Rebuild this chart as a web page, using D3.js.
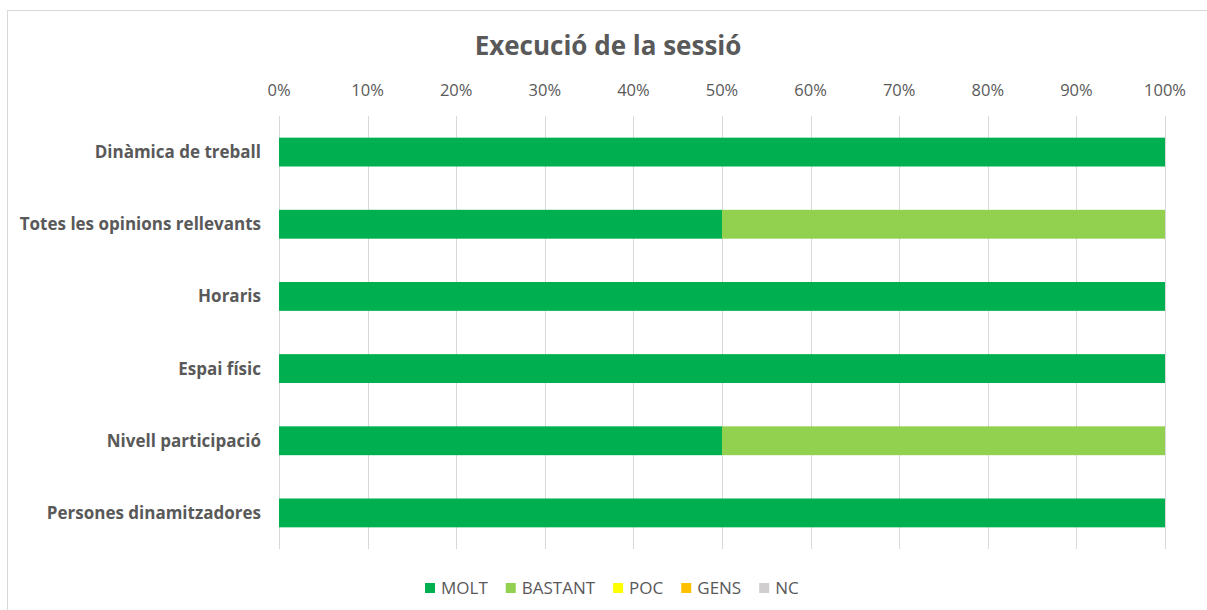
<!DOCTYPE html>
<html lang="ca">
<head>
  <meta charset="UTF-8">
  <title>Execució de la sessió</title>
  <style>
    body { margin: 0; background: #fff; }
    svg text { font-family: "Open Sans", "Noto Sans", sans-serif; fill: #595959; }
    .tick-label { font-size: 16.5px; }
    .cat-label { font-size: 17px; font-weight: bold; }
    .title { font-size: 26px; font-weight: bold; }
    .legend-label { font-size: 17px; }
  </style>
</head>
<body>
  <svg id="chart" width="1207" height="610"></svg>
  <script src="https://d3js.org/d3.v7.min.js"></script>
  <script>
    // Data
    const categories = ["Dinàmica de treball", "Totes les opinions rellevants", "Horaris",
                        "Espai físic", "Nivell participació", "Persones dinamitzadores"];
    const seriesNames = ["MOLT", "BASTANT", "POC", "GENS", "NC"];
    const seriesColors = ["#00B050", "#92D050", "#FFFF00", "#FFC000", "#D0CECE"];
    const molt    = [1, 0.5, 1, 1, 0.5, 1];
    const bastant = [0, 0.5, 0, 0, 0.5, 0];
    const poc     = [0, 0, 0, 0, 0, 0];
    const gens    = [0, 0, 0, 0, 0, 0];
    const nc      = [0, 0, 0, 0, 0, 0];
    const tickValues = [0, 0.1, 0.2, 0.3, 0.4, 0.5, 0.6, 0.7, 0.8, 0.9, 1];

    const svg = d3.select("#chart");

    // chart frame (top and left edges visible)
    svg.append("rect")
      .attr("x", 7.5).attr("y", 10.5)
      .attr("width", 1220).attr("height", 620)
      .attr("fill", "none").attr("stroke", "#d9d9d9").attr("stroke-width", 1);

    const x = d3.scaleLinear().domain([0, 1]).range([279, 1165]);
    const y = d3.scaleBand().domain(categories).range([116, 549]).paddingInner(0.6).paddingOuter(0.3);

    // gridlines
    svg.append("g").selectAll("line")
      .data(tickValues).enter().append("line")
      .attr("x1", d => Math.round(x(d)) + 0.5).attr("x2", d => Math.round(x(d)) + 0.5)
      .attr("y1", 116).attr("y2", 549)
      .attr("stroke", "#d9d9d9").attr("stroke-width", 1);

    // top axis labels
    svg.append("g").selectAll("text")
      .data(tickValues).enter().append("text")
      .attr("class", "tick-label")
      .attr("x", d => x(d)).attr("y", 90)
      .attr("dy", "0.35em")
      .attr("text-anchor", "middle")
      .text(d => d3.format(".0%")(d));

    // stacked bars
    const table = categories.map((c, i) => ({
      cat: c, MOLT: molt[i], BASTANT: bastant[i], POC: poc[i], GENS: gens[i], NC: nc[i]
    }));
    const stacked = d3.stack().keys(seriesNames)(table);
    const color = d3.scaleOrdinal().domain(seriesNames).range(seriesColors);

    svg.append("g").selectAll("g")
      .data(stacked).enter().append("g")
      .attr("fill", d => color(d.key))
      .selectAll("rect")
      .data(d => d.filter(p => p[1] - p[0] > 0)).enter().append("rect")
      .attr("x", d => x(d[0]))
      .attr("y", d => y(d.data.cat))
      .attr("width", d => x(d[1]) - x(d[0]))
      .attr("height", y.bandwidth());

    // category labels
    svg.append("g").selectAll("text")
      .data(categories).enter().append("text")
      .attr("class", "cat-label")
      .attr("x", 261)
      .attr("y", d => y(d) + y.bandwidth() / 2)
      .attr("dy", "0.35em")
      .attr("text-anchor", "end")
      .text(d => d);

    // title
    svg.append("text")
      .attr("class", "title")
      .attr("x", 608).attr("y", 46)
      .attr("dy", "0.35em")
      .attr("text-anchor", "middle")
      .text("Execució de la sessió");

    // legend
    const legend = svg.append("g");
    let lx = 425;
    seriesNames.forEach((name, i) => {
      legend.append("rect")
        .attr("x", lx).attr("y", 583)
        .attr("width", 10).attr("height", 10)
        .attr("fill", seriesColors[i]);
      const t = legend.append("text")
        .attr("class", "legend-label")
        .attr("x", lx + 16).attr("y", 588)
        .attr("dy", "0.35em")
        .text(name);
      lx += 16 + t.node().getComputedTextLength() + 18;
    });
  </script>
</body>
</html>
